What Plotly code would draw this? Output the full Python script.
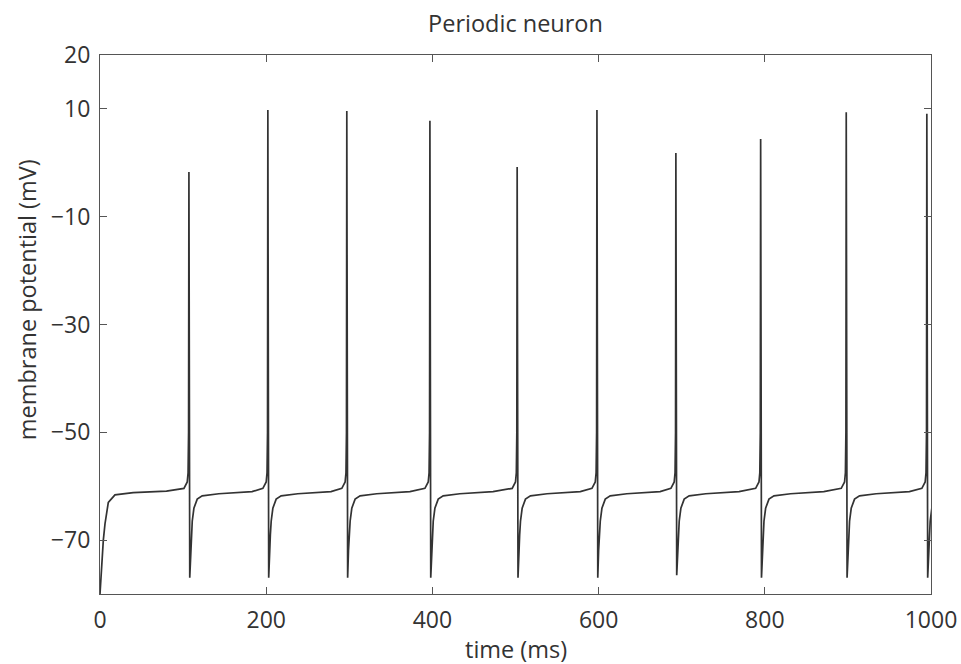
import numpy as np
import plotly.graph_objects as go

# Spike data
spike_times = [107, 202, 297, 397, 502, 598, 693, 795, 898, 995]          # ms
spike_peaks = [-1.7, 9.8, 9.6, 7.8, -0.8, 9.8, 1.8, 4.4, 9.4, 9.1]          # mV
trough_values = [-77, -77, -77, -77, -77, -77, -76.5, -77, -77, -77]        # mV

# Waveform shape around each spike (offset in ms from spike, value in mV)
pre_offsets = [-6, -2, -1, -0.4]
pre_values = [-60.4, -59.2, -57.5, -50]
post_offsets = [2, 3, 4, 6, 10, 16, 36, 76]
post_values = [-72, -69, -66.5, -64.1, -62.4, -61.8, -61.4, -61.0]

# Initial transient from rest
start_times = [0, 2, 4, 6, 10, 18, 40, 80]
start_values = [-80, -74, -70, -67, -63, -61.6, -61.2, -60.9]

t = list(start_times)
v = list(start_values)
for i, ts in enumerate(spike_times):
    for o, val in zip(pre_offsets, pre_values):
        t.append(ts + o); v.append(val)
    t.append(ts); v.append(spike_peaks[i])
    t.append(ts + 1); v.append(trough_values[i])
    nxt = spike_times[i + 1] if i + 1 < len(spike_times) else 1e9
    for o, val in zip(post_offsets, post_values):
        if ts + o < nxt - 6:
            t.append(ts + o); v.append(val)

order = np.argsort(t, kind="stable")
t = np.array(t)[order]
v = np.array(v)[order]

x_ticks = [0, 200, 400, 600, 800, 1000]
y_ticks = [20, 10, -10, -30, -50, -70]

FONT = "Open Sans"
TXT = "#333333"
AX = "#555555"
TICK_SIZE = 23
TITLE_SIZE = 23.5

fig = go.Figure()
fig.add_trace(go.Scatter(x=t, y=v, mode="lines",
                         line=dict(color="#333333", width=1.7),
                         showlegend=False, hoverinfo="skip"))

fig.update_layout(
    width=961, height=664,
    margin=dict(l=100, r=30, t=55, b=70, autoexpand=False),
    paper_bgcolor="white", plot_bgcolor="white",
    font=dict(family=FONT, size=TICK_SIZE, color=TXT),
    title=dict(text="Periodic neuron", xref="paper", x=0.5, xanchor="center",
               yref="container", y=1 - 24 / 664, yanchor="middle", automargin=False,
               font=dict(family=FONT, size=TITLE_SIZE, color=TXT)),
    annotations=[
        dict(text="membrane potential (mV)", textangle=-90,
             xref="paper", x=0, xanchor="center", xshift=-73,
             yref="paper", y=0.545, yanchor="middle",
             showarrow=False,
             font=dict(family=FONT, size=TITLE_SIZE, color=TXT)),
        dict(text="time (ms)",
             xref="paper", x=0.5, xanchor="center",
             yref="paper", y=0, yanchor="middle", yshift=-55,
             showarrow=False,
             font=dict(family=FONT, size=TITLE_SIZE, color=TXT)),
    ],
)
fig.update_xaxes(range=[0, 1000], tickvals=x_ticks, ticks="inside", ticklen=7,
                 tickcolor=AX, showline=True, linecolor=AX, linewidth=1.2,
                 mirror="ticks", showgrid=False, zeroline=False, automargin=False,
                 tickfont=dict(size=TICK_SIZE), ticklabelstandoff=5,
                 ticklabeloverflow="allow")
fig.update_yaxes(range=[-80, 20], tickvals=y_ticks, ticks="inside", ticklen=7,
                 tickcolor=AX, showline=True, linecolor=AX, linewidth=1.2,
                 mirror="ticks", showgrid=False, zeroline=False, automargin=False,
                 tickfont=dict(size=TICK_SIZE), ticklabelstandoff=4)

fig.write_html("out.html",
               config={"displayModeBar": False},
               post_script="document.body.style.margin='0';document.body.style.overflow='hidden';")
